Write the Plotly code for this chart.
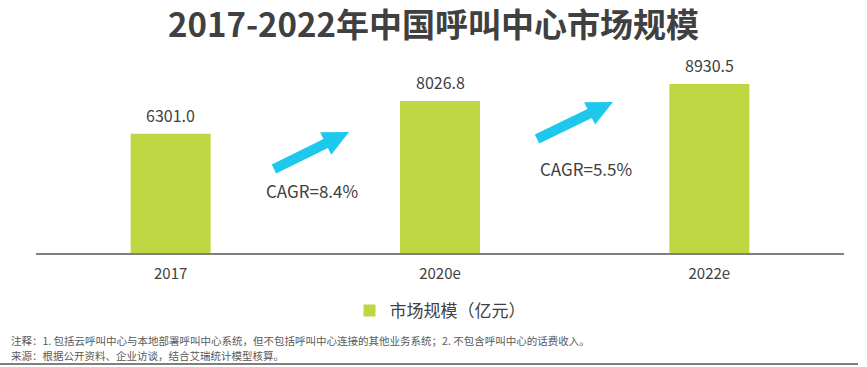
import plotly.graph_objects as go

categories = ["2017", "2020e", "2022e"]
values = [6301.0, 8026.8, 8930.5]
value_labels = ["6301.0", "8026.8", "8930.5"]
series_name = "市场规模（亿元）"
cagr_labels = ["CAGR=8.4%", "CAGR=5.5%"]
title_text = "2017-2022年中国呼叫中心市场规模"
notes = [
    "注释：1. 包括云呼叫中心与本地部署呼叫中心系统，但不包括呼叫中心连接的其他业务系统；2. 不包含呼叫中心的话费收入。",
    "来源：根据公开资料、企业访谈，结合艾瑞统计模型核算。",
]

W, H = 867, 367
ML, MR, MT, MB = 36, 23, 60, 114
PW, PH = W - ML - MR, H - MT - MB
FONT = "Microsoft YaHei, Noto Sans CJK SC, sans-serif"
BAR_COLOR = "#BED742"
ARROW_COLOR = "#1EC8EC"
TEXT_COLOR = "#404040"


def px2paper(px, py):
    return (px - ML) / PW, (H - MB - py) / PH


def arrow_path(tail, tip, sw=5.0, hw=12.5, hl=26.0):
    dx, dy = tip[0] - tail[0], tip[1] - tail[1]
    L = (dx * dx + dy * dy) ** 0.5
    ux, uy = dx / L, dy / L
    nx, ny = -uy, ux
    bx, by = tip[0] - ux * hl, tip[1] - uy * hl
    pts = [
        (tail[0] + nx * sw, tail[1] + ny * sw),
        (bx + nx * sw, by + ny * sw),
        (bx + nx * hw, by + ny * hw),
        tip,
        (bx - nx * hw, by - ny * hw),
        (bx - nx * sw, by - ny * sw),
        (tail[0] - nx * sw, tail[1] - ny * sw),
    ]
    conv = [px2paper(*p) for p in pts]
    return "M " + " L ".join(f"{x:.5f},{y:.5f}" for x, y in conv) + " Z"


fig = go.Figure()
fig.add_trace(go.Bar(
    x=categories, y=values, name=series_name,
    marker=dict(color=BAR_COLOR, line=dict(width=0)),
    width=0.297, showlegend=True,
))

annotations = []
for i, (v, t) in enumerate(zip(values, value_labels)):
    annotations.append(dict(
        x=i, y=v, xref="x", yref="y", text=t, showarrow=False,
        yanchor="middle", yshift=19,
        font=dict(family=FONT, size=16, color=TEXT_COLOR),
    ))

for (px, py), t in zip([(312, 190), (586, 168)], cagr_labels):
    x, y = px2paper(px, py)
    annotations.append(dict(
        x=x, y=y, xref="paper", yref="paper", text=t, showarrow=False,
        xanchor="center", yanchor="middle",
        font=dict(family=FONT, size=17, color=TEXT_COLOR),
    ))

for py, t in zip([340.5, 355], notes):
    x, y = px2paper(9, py)
    annotations.append(dict(
        x=x, y=y, xref="paper", yref="paper", text=t, showarrow=False,
        xanchor="left", yanchor="middle",
        font=dict(family=FONT, size=10.5, color="#595959"),
    ))

shapes = []
for tail, tip in [((274, 169), (349, 132)), ((537, 139), (613, 102))]:
    shapes.append(dict(
        type="path", xref="paper", yref="paper", path=arrow_path(tail, tip),
        fillcolor=ARROW_COLOR, line=dict(width=0),
    ))

x0, y0 = px2paper(0, 364)
x1, _ = px2paper(858, 364)
shapes.append(dict(
    type="line", xref="paper", yref="paper", x0=x0, x1=x1, y0=y0, y1=y0,
    line=dict(color="#7F7F7F", width=2),
))

fig.update_layout(
    width=W, height=H,
    margin=dict(l=ML, r=MR, t=MT, b=MB, pad=0),
    paper_bgcolor="white", plot_bgcolor="white",
    title=dict(
        text=title_text, x=0.5, xanchor="center", y=1 - 25 / H, yanchor="middle",
        font=dict(family=FONT, size=33, color=TEXT_COLOR, weight="bold"),
    ),
    xaxis=dict(
        type="category", range=[-0.5, 2.5], showline=True, linecolor="#7F7F7F",
        linewidth=1.5, ticks="", showgrid=False, zeroline=False,
        tickfont=dict(family=FONT, size=15, color=TEXT_COLOR),
        ticklabelstandoff=6, fixedrange=True,
    ),
    yaxis=dict(
        range=[0, 10200], visible=False, showgrid=False, zeroline=False,
    ),
    legend=dict(
        orientation="h", x=0.5, xanchor="center", y=px2paper(0, 311)[1],
        yanchor="middle", font=dict(family=FONT, size=17, color=TEXT_COLOR),
        bgcolor="rgba(0,0,0,0)",
    ),
    annotations=annotations,
    shapes=shapes,
    bargap=0.7,
)

fig.write_html(
    "out.html",
    config={"displayModeBar": False},
    post_script="document.body.style.margin='0';document.body.style.padding='0';",
)
